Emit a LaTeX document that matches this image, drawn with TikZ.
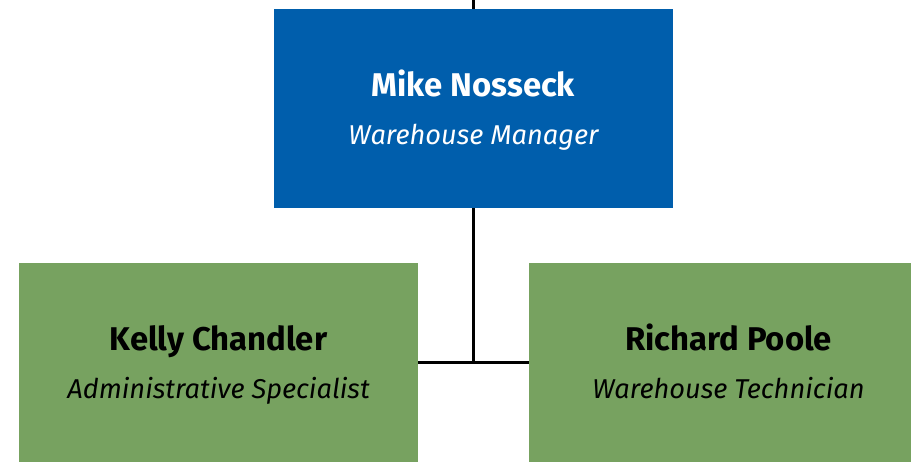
\documentclass[tikz,border=0pt]{standalone}
\usepackage{fontspec}
\setmainfont{Fira Sans}
\usetikzlibrary{positioning}
\usetikzlibrary{calc}
\definecolor{boss}{RGB}{0, 94, 172}
\definecolor{staff}{RGB}{119, 162, 96}
% struts fix the spacing of the two lines in a box
\newcommand{\who}[1]{\rule[-6pt]{0pt}{25.8pt}{\fontsize{18.7}{22}\selectfont\bfseries #1}}
\newcommand{\job}[1]{\rule[-6pt]{0pt}{26.2pt}{\fontsize{15.5}{20}\selectfont\itshape #1}}
\tikzset{
    person/.style={rectangle, minimum width=7.98cm, minimum height=3.98cm,
                   align=center, inner sep=0pt, font=\fontsize{10}{1}\selectfont},
    link/.style={black, line width=1.7pt}
}

\begin{document}
\begin{tikzpicture}[x=0.02cm, y=-0.02cm]

        \useasboundingbox (0, 0) rectangle (911, 464);
        \clip (0, 0) rectangle (911, 464);

        \node[person, fill=boss, text=white] (mike) at (473.5, 108.5)
        { \who{Mike Nosseck} \\ \job{Warehouse Manager} };

        \node[person, fill=staff, text=black] (kelly) at (218.5, 362.5)
        { \who{Kelly Chandler} \\ \job{Administrative Specialist} };

        \node[person, fill=staff, text=black] (richard) at (728.5, 362.5)
        { \who{Richard Poole} \\ \job{Warehouse Technician} };

        \coordinate (top) at (473.5, 0);

        \draw[link] (top) -- (mike.north);
        \draw[link] (mike.south) -- (mike.south |- kelly.east);
        \draw[link] (kelly.east) -- (richard.west);

\end{tikzpicture}
\end{document}
